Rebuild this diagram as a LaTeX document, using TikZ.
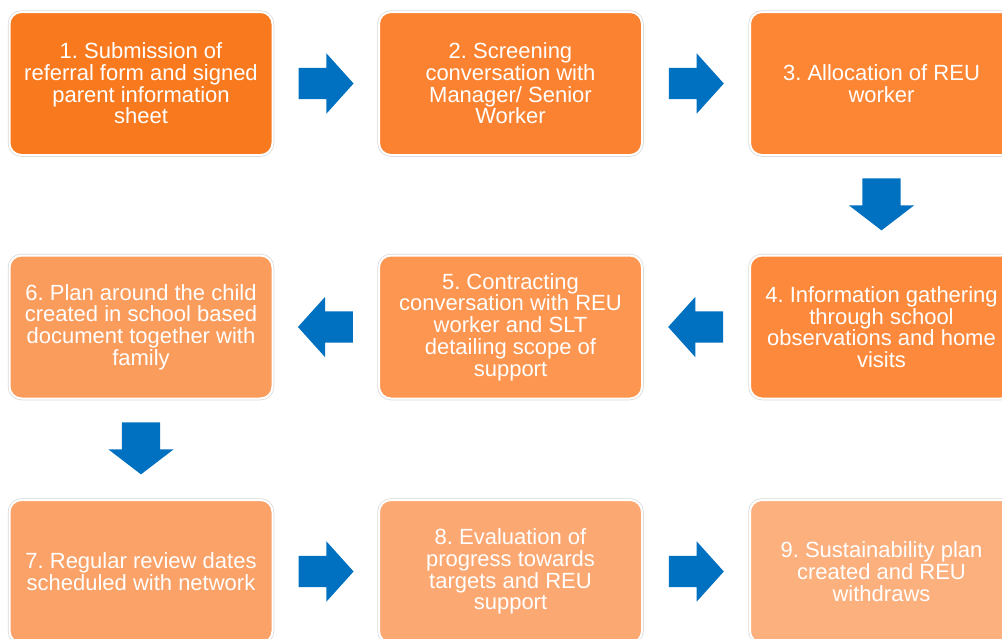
\documentclass[tikz,border=0pt]{standalone}
\usepackage{fontspec}
\setmainfont{Liberation Sans}
\usetikzlibrary{shapes.arrows, calc}

\definecolor{flowblue}{HTML}{0070C0}
\definecolor{stageA}{HTML}{F97A1E}
\definecolor{stageB}{HTML}{FB8230}
\definecolor{stageC}{HTML}{FD8635}
\definecolor{stageD}{HTML}{FD8A3C}
\definecolor{stageE}{HTML}{FC9650}
\definecolor{stageF}{HTML}{FA9C5C}
\definecolor{stageG}{HTML}{FAA268}
\definecolor{stageH}{HTML}{FCA872}
\definecolor{stageI}{HTML}{FCB07E}

\frenchspacing

\begin{document}
\begin{tikzpicture}
  [x=1pt, y=-1pt,
   stage/.style={rounded corners=12pt, minimum width=263pt, minimum height=143pt,
     inner sep=0pt, align=center, text=white, draw=white, line width=2pt,
     preaction={draw=black!15, line width=3.5pt},
     font=\fontsize{22}{21.7}\selectfont},
   % #1 = direction of the arrow
   flow/.style={single arrow, fill=flowblue, draw=none, inner xsep=0pt,
     inner ysep=15.5pt, minimum height=55pt, single arrow head extend=14.5pt,
     single arrow tip angle=96, rotate=#1, xshift=-6.75pt},
   flowdown/.style={flow=-90, inner ysep=19pt, minimum height=52pt,
     single arrow head extend=13.5pt, single arrow tip angle=105,
     xshift=-1.5pt}]
  \useasboundingbox (0,0) rectangle (1002,638);
  % row 1
  \node[stage, fill=stageA] (b1) at (141,83.5)
    {1. Submission of\\referral form and signed\\parent information\\sheet};
  \node[stage, fill=stageB] (b2) at (510.5,83.5)
    {2. Screening\\conversation with\\Manager/ Senior\\Worker};
  \node[stage, fill=stageC] (b3) at (881.5,83.5)
    {3. Allocation of REU\\worker};
  % row 2
  \node[stage, fill=stageD] (b4) at (881.5,327)
    {4. Information gathering\\through school\\observations and home\\visits};
  \node[stage, fill=stageE] (b5) at (510.5,327)
    {5. Contracting\\conversation with REU\\worker and SLT\\detailing scope of\\support};
  \node[stage, fill=stageF] (b6) at (141,327)
    {6. Plan around the child\\created in school based\\document together with\\family};
  % row 3
  \node[stage, fill=stageG] (b7) at (141,571.5)
    {7. Regular review dates\\scheduled with network};
  \node[stage, fill=stageH] (b8) at (510.5,571.5)
    {8. Evaluation of\\progress towards\\targets and REU\\support};
  \node[stage, fill=stageI] (b9) at (881.5,571.5)
    {9. Sustainability plan\\created and REU\\withdraws};
  % arrows
  \node[flow=0] (a12) at ($(b1.east)!0.5!(b2.west)$) {};
  \node[flow=0] (a23) at ($(b2.east)!0.5!(b3.west)$) {};
  \node[flowdown] (a34) at ($(b3.south)!0.5!(b4.north)$) {};
  \node[flow=180] (a45) at ($(b4.west)!0.5!(b5.east)$) {};
  \node[flow=180] (a56) at ($(b5.west)!0.5!(b6.east)$) {};
  \node[flowdown] (a67) at ($(b6.south)!0.5!(b7.north)$) {};
  \node[flow=0] (a78) at ($(b7.east)!0.5!(b8.west)$) {};
  \node[flow=0] (a89) at ($(b8.east)!0.5!(b9.west)$) {};
\end{tikzpicture}
\end{document}
